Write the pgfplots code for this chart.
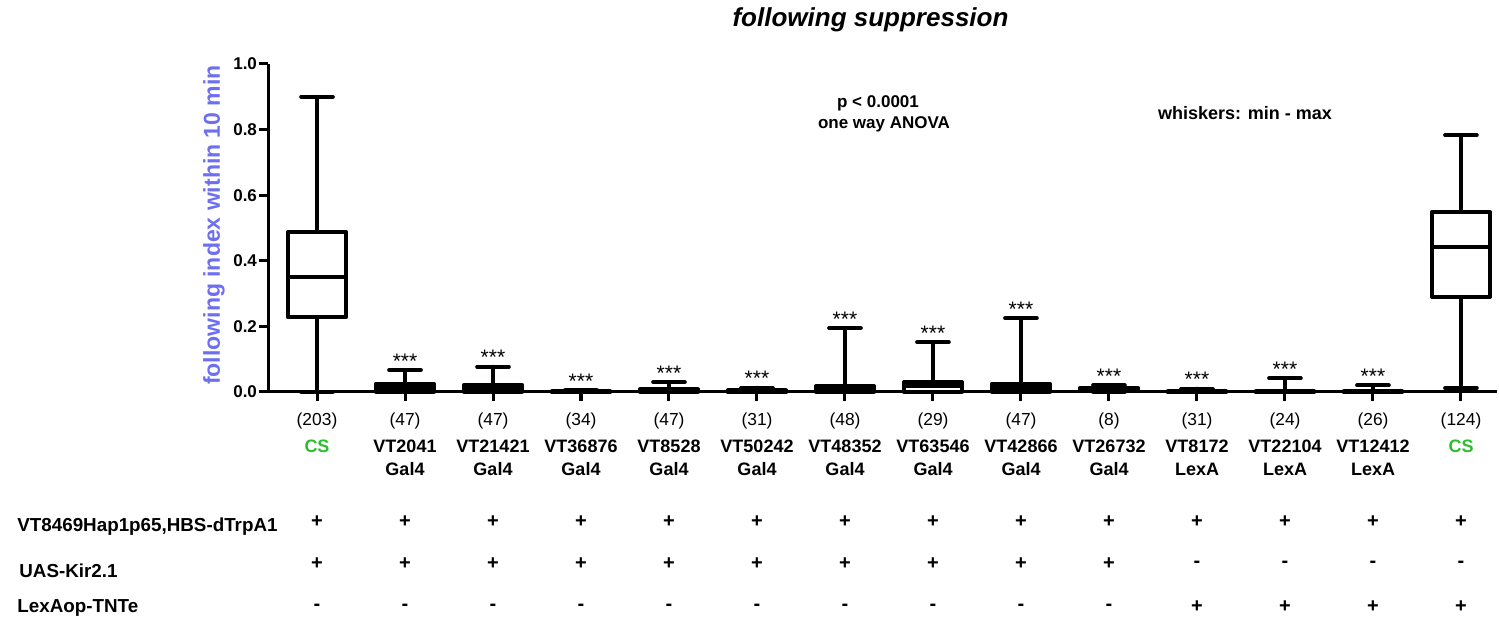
\documentclass[border=0pt]{standalone}
\usepackage{pgfplots}
\pgfplotsset{compat=1.18}
\usepgfplotslibrary{statistics}
\usepackage{fontspec}
\setmainfont{Liberation Sans}
\definecolor{csgreen}{RGB}{45,190,45}
\definecolor{lblblue}{RGB}{110,110,240}

% one box: position, min, q1, median, q3, max
\newcommand{\bx}[6]{\addplot[black, line width=2pt, line cap=round, line join=round, fill=white,
  boxplot/draw direction=y,
  boxplot prepared={draw position=#1, lower whisker=#2, lower quartile=#3, median=#4,
  upper quartile=#5, upper whisker=#6, box extend=0.66, whisker extend=0.36}] coordinates {};}
\newcommand{\st}[2]{\node[font=\fontsize{10.5}{10.5}\selectfont, anchor=base, yshift=1pt] at (axis cs:#1,#2) {***};}

\begin{document}
\begin{tikzpicture}
\path[use as bounding box] (0,0) rectangle (749.5pt,310.5pt);

\begin{axis}[
  at={(134pt,114.5pt)}, anchor=south west,
  scale only axis, width=614.5pt, height=164pt,
  xmin=-0.557, xmax=13.41, ymin=0, ymax=1,
  axis x line*=bottom, axis y line*=left,
  axis line style={line width=1.5pt},
  xtick={0,...,13}, xticklabels={},
  ytick={0,0.2,0.4,0.6,0.8,1.0},
  tick align=outside, major tick length=4.5pt,
  tick style={line width=1.5pt, black},
  yticklabel style={font=\bfseries\fontsize{8.5}{9}\selectfont, xshift=2.5pt,
    /pgf/number format/.cd, fixed, fixed zerofill, precision=1, assume math mode=true},
  clip=false,
]
\bx{0}{0}{0.228}{0.35}{0.488}{0.90}
\bx{1}{0}{0}{0.012}{0.025}{0.067}
\bx{2}{0}{0}{0.01}{0.022}{0.077}
\bx{3}{0}{0}{0}{0.003}{0.006}
\bx{4}{0}{0}{0.003}{0.008}{0.03}
\bx{5}{0}{0}{0}{0.005}{0.013}
\bx{6}{0}{0}{0.005}{0.018}{0.195}
\bx{7}{0}{0}{0.018}{0.03}{0.152}
\bx{8}{0}{0}{0.012}{0.025}{0.225}
\bx{9}{0}{0.003}{0.008}{0.013}{0.02}
\bx{10}{0}{0}{0}{0.003}{0.01}
\bx{11}{0}{0}{0}{0.003}{0.042}
\bx{12}{0}{0}{0}{0.003}{0.02}
\bx{13}{0.012}{0.29}{0.443}{0.549}{0.783}
\st{1}{0.067}
\st{2}{0.077}
\st{3}{0.006}
\st{4}{0.03}
\st{5}{0.013}
\st{6}{0.195}
\st{7}{0.152}
\st{8}{0.225}
\st{9}{0.02}
\st{10}{0.01}
\st{11}{0.042}
\st{12}{0.02}
\end{axis}

% title and notes
\node[font=\bfseries\itshape\fontsize{13}{15}\selectfont] at (435.25pt,300.5pt) {following suppression};
\node[rotate=90, text=lblblue, font=\bfseries\fontsize{11.5}{13}\selectfont] at (107pt,198pt) {following index within 10 min};
\node[font=\bfseries\fontsize{8.5}{10}\selectfont] at (439pt,259pt) {p < 0.0001};
\node[font=\bfseries\fontsize{8.5}{10}\selectfont] at (442pt,248.5pt) {one way ANOVA};
\node[font=\bfseries\fontsize{9}{10}\selectfont] at (622.5pt,254pt) {whiskers: min - max};

% sample sizes and genotypes under each box
\foreach \n [count=\i from 0] in {{(203)},{(47)},{(47)},{(34)},{(47)},{(31)},{(48)},{(29)},{(47)},{(8)},{(31)},{(24)},{(26)},{(124)}}
  \node[font=\fontsize{8.7}{10}\selectfont] at ({(158.5+44*\i)*1pt},100pt) {\n};
\foreach \a/\b/\c [count=\i from 0] in {CS//csgreen, VT2041/Gal4/black, VT21421/Gal4/black, VT36876/Gal4/black,
    VT8528/Gal4/black, VT50242/Gal4/black, VT48352/Gal4/black, VT63546/Gal4/black, VT42866/Gal4/black,
    VT26732/Gal4/black, VT8172/LexA/black, VT22104/LexA/black, VT12412/LexA/black, CS//csgreen} {
  \node[font=\bfseries\fontsize{9}{10}\selectfont, text=\c] at ({(158.5+44*\i)*1pt},87.5pt) {\a};
  \node[font=\bfseries\fontsize{9}{10}\selectfont] at ({(158.5+44*\i)*1pt},76pt) {\b};
}

% genotype table
\node[anchor=west, inner sep=0pt, font=\bfseries\fontsize{9.4}{10}\selectfont] at (8.5pt,47pt) {VT8469Hap1p65,HBS-dTrpA1};
\node[anchor=west, inner sep=0pt, font=\bfseries\fontsize{9.4}{10}\selectfont] at (9.5pt,25pt) {UAS-Kir2.1};
\node[anchor=west, inner sep=0pt, font=\bfseries\fontsize{9.4}{10}\selectfont] at (8.5pt,6.5pt) {LexAop-TNTe};
\foreach \s [count=\i from 0] in {+,+,+,+,+,+,+,+,+,+,+,+,+,+}
  \node[font=\bfseries\fontsize{10}{10}\selectfont] at ({(158.5+44*\i)*1pt},49.5pt) {\s};
\foreach \s [count=\i from 0] in {+,+,+,+,+,+,+,+,+,+,-,-,-,-}
  \node[font=\bfseries\fontsize{10}{10}\selectfont] at ({(158.5+44*\i)*1pt},28.5pt) {\s};
\foreach \s [count=\i from 0] in {-,-,-,-,-,-,-,-,-,-,+,+,+,+}
  \node[font=\bfseries\fontsize{10}{10}\selectfont] at ({(158.5+44*\i)*1pt},7pt) {\s};
\end{tikzpicture}
\end{document}
